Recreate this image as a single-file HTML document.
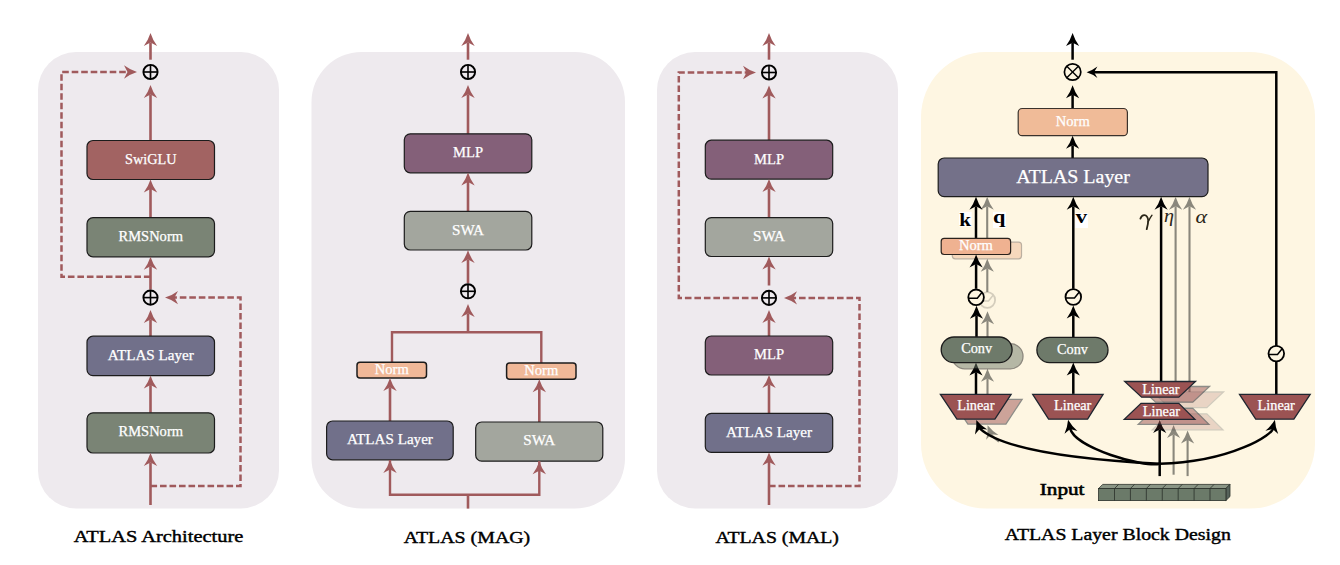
<!DOCTYPE html><html><head><meta charset="utf-8"><style>html,body{margin:0;padding:0;background:#fff;width:1340px;height:565px;overflow:hidden}svg{display:block}text{font-family:"Liberation Serif",serif}</style></head><body>
<svg width="1340" height="565" viewBox="0 0 1340 565">
<rect x="38" y="52" width="241" height="456.5" rx="38" fill="#eeeaee"/>
<line x1="150.5" y1="59.7" x2="150.50" y2="42.50" stroke="#a05a5c" stroke-width="2.6"/><path d="M150.50,33.00 Q152.70,40.00 157.20,46.00 L150.50,42.50 L143.80,46.00 Q148.30,40.00 150.50,33.00Z" fill="#a05a5c"/>
<circle cx="150.5" cy="72" r="7.1" fill="none" stroke="#000" stroke-width="1.9"/><line x1="143.4" y1="72" x2="157.6" y2="72" stroke="#000" stroke-width="1.615"/><line x1="150.5" y1="64.9" x2="150.5" y2="79.1" stroke="#000" stroke-width="1.615"/>
<line x1="150.5" y1="140.5" x2="150.50" y2="94.50" stroke="#a05a5c" stroke-width="2.6"/><path d="M150.50,85.00 Q152.70,92.00 157.20,98.00 L150.50,94.50 L143.80,98.00 Q148.30,92.00 150.50,85.00Z" fill="#a05a5c"/>
<rect x="87" y="140.5" width="127.5" height="39.0" rx="6" fill="#a26362" stroke="#1c1c1c" stroke-width="1.2"/><text x="150.75" y="163.8" text-anchor="middle" font-size="14.3" fill="#fff" font-weight="normal" stroke="#fff" stroke-width="0.25" textLength="51.5" lengthAdjust="spacingAndGlyphs">SwiGLU</text>
<line x1="150.5" y1="217.7" x2="150.50" y2="189.00" stroke="#a05a5c" stroke-width="2.6"/><path d="M150.50,179.50 Q152.70,186.50 157.20,192.50 L150.50,189.00 L143.80,192.50 Q148.30,186.50 150.50,179.50Z" fill="#a05a5c"/>
<rect x="87" y="217.7" width="127.5" height="39.10000000000002" rx="6" fill="#7a8475" stroke="#1c1c1c" stroke-width="1.2"/><text x="150.75" y="241.0" text-anchor="middle" font-size="14.3" fill="#fff" font-weight="normal" stroke="#fff" stroke-width="0.25" textLength="64.5" lengthAdjust="spacingAndGlyphs">RMSNorm</text>
<line x1="150.5" y1="289.6" x2="150.50" y2="266.30" stroke="#a05a5c" stroke-width="2.6"/><path d="M150.50,256.80 Q152.70,263.80 157.20,269.80 L150.50,266.30 L143.80,269.80 Q148.30,263.80 150.50,256.80Z" fill="#a05a5c"/>
<circle cx="150.5" cy="297.6" r="7.1" fill="none" stroke="#000" stroke-width="1.9"/><line x1="143.4" y1="297.6" x2="157.6" y2="297.6" stroke="#000" stroke-width="1.615"/><line x1="150.5" y1="290.5" x2="150.5" y2="304.70000000000005" stroke="#000" stroke-width="1.615"/>
<polyline points="150.5,276.8 61.5,276.8 61.5,72 128,72" fill="none" stroke="#a05a5c" stroke-width="2.5" stroke-dasharray="6.6 2.9" stroke-linejoin="miter"/>
<path d="M137.00,72.00 Q130.00,74.20 124.00,78.70 L127.50,72.00 L124.00,65.30 Q130.00,69.80 137.00,72.00Z" fill="#a05a5c"/>
<line x1="150.5" y1="336.2" x2="150.50" y2="319.50" stroke="#a05a5c" stroke-width="2.6"/><path d="M150.50,310.00 Q152.70,317.00 157.20,323.00 L150.50,319.50 L143.80,323.00 Q148.30,317.00 150.50,310.00Z" fill="#a05a5c"/>
<rect x="87" y="336.2" width="127.5" height="39.400000000000034" rx="6" fill="#71708a" stroke="#1c1c1c" stroke-width="1.2"/><text x="150.75" y="359.5" text-anchor="middle" font-size="14.3" fill="#fff" font-weight="normal" stroke="#fff" stroke-width="0.25" textLength="86" lengthAdjust="spacingAndGlyphs">ATLAS Layer</text>
<line x1="150.5" y1="412.8" x2="150.50" y2="385.10" stroke="#a05a5c" stroke-width="2.6"/><path d="M150.50,375.60 Q152.70,382.60 157.20,388.60 L150.50,385.10 L143.80,388.60 Q148.30,382.60 150.50,375.60Z" fill="#a05a5c"/>
<rect x="87" y="412.8" width="127.5" height="40.19999999999999" rx="6" fill="#7a8475" stroke="#1c1c1c" stroke-width="1.2"/><text x="150.75" y="436.1" text-anchor="middle" font-size="14.3" fill="#fff" font-weight="normal" stroke="#fff" stroke-width="0.25" textLength="64.5" lengthAdjust="spacingAndGlyphs">RMSNorm</text>
<line x1="150.5" y1="505" x2="150.50" y2="462.50" stroke="#a05a5c" stroke-width="2.6"/><path d="M150.50,453.00 Q152.70,460.00 157.20,466.00 L150.50,462.50 L143.80,466.00 Q148.30,460.00 150.50,453.00Z" fill="#a05a5c"/>
<polyline points="150.5,486 240.5,486 240.5,297.6 174,297.6" fill="none" stroke="#a05a5c" stroke-width="2.5" stroke-dasharray="6.6 2.9" stroke-linejoin="miter"/>
<path d="M165.00,297.60 Q172.00,295.40 178.00,290.90 L174.50,297.60 L178.00,304.30 Q172.00,299.80 165.00,297.60Z" fill="#a05a5c"/>
<rect x="311.5" y="52" width="313.5" height="456.5" rx="50" fill="#eeeaee"/>
<line x1="468" y1="59.7" x2="468.00" y2="42.50" stroke="#a05a5c" stroke-width="2.6"/><path d="M468.00,33.00 Q470.20,40.00 474.70,46.00 L468.00,42.50 L461.30,46.00 Q465.80,40.00 468.00,33.00Z" fill="#a05a5c"/>
<circle cx="468" cy="72" r="7.1" fill="none" stroke="#000" stroke-width="1.9"/><line x1="460.9" y1="72" x2="475.1" y2="72" stroke="#000" stroke-width="1.615"/><line x1="468" y1="64.9" x2="468" y2="79.1" stroke="#000" stroke-width="1.615"/>
<line x1="468" y1="133.8" x2="468.00" y2="94.50" stroke="#a05a5c" stroke-width="2.6"/><path d="M468.00,85.00 Q470.20,92.00 474.70,98.00 L468.00,94.50 L461.30,98.00 Q465.80,92.00 468.00,85.00Z" fill="#a05a5c"/>
<rect x="404.3" y="133.8" width="127.49999999999994" height="39.0" rx="6" fill="#846079" stroke="#1c1c1c" stroke-width="1.2"/><text x="468.04999999999995" y="157.10000000000002" text-anchor="middle" font-size="14.3" fill="#fff" font-weight="normal" stroke="#fff" stroke-width="0.25" textLength="30" lengthAdjust="spacingAndGlyphs">MLP</text>
<line x1="468" y1="211.4" x2="468.00" y2="182.00" stroke="#a05a5c" stroke-width="2.6"/><path d="M468.00,172.50 Q470.20,179.50 474.70,185.50 L468.00,182.00 L461.30,185.50 Q465.80,179.50 468.00,172.50Z" fill="#a05a5c"/>
<rect x="404.3" y="211.4" width="127.49999999999994" height="38.599999999999994" rx="6" fill="#a3a69e" stroke="#1c1c1c" stroke-width="1.2"/><text x="468.04999999999995" y="234.70000000000002" text-anchor="middle" font-size="14.3" fill="#fff" font-weight="normal" stroke="#fff" stroke-width="0.25" textLength="32" lengthAdjust="spacingAndGlyphs">SWA</text>
<line x1="468" y1="283.3" x2="468.00" y2="259.50" stroke="#a05a5c" stroke-width="2.6"/><path d="M468.00,250.00 Q470.20,257.00 474.70,263.00 L468.00,259.50 L461.30,263.00 Q465.80,257.00 468.00,250.00Z" fill="#a05a5c"/>
<circle cx="468" cy="291.3" r="7.1" fill="none" stroke="#000" stroke-width="1.9"/><line x1="460.9" y1="291.3" x2="475.1" y2="291.3" stroke="#000" stroke-width="1.615"/><line x1="468" y1="284.2" x2="468" y2="298.40000000000003" stroke="#000" stroke-width="1.615"/>
<polyline points="392,362.2 392,332.3 541.3,332.3 541.3,363" fill="none" stroke="#a05a5c" stroke-width="2.4" stroke-linejoin="miter"/>
<line x1="468" y1="332.3" x2="468.00" y2="313.50" stroke="#a05a5c" stroke-width="2.6"/><path d="M468.00,304.00 Q470.20,311.00 474.70,317.00 L468.00,313.50 L461.30,317.00 Q465.80,311.00 468.00,304.00Z" fill="#a05a5c"/>
<rect x="357" y="362.2" width="69.5" height="15.699999999999989" rx="3" fill="#f0b898" stroke="#1c1c1c" stroke-width="1.5"/><text x="391.75" y="373.8" text-anchor="middle" font-size="14" fill="#fff" font-weight="normal" stroke="#fff" stroke-width="0.25" textLength="34" lengthAdjust="spacingAndGlyphs">Norm</text>
<rect x="506.6" y="363" width="69.39999999999998" height="16.19999999999999" rx="3" fill="#f0b898" stroke="#1c1c1c" stroke-width="1.5"/><text x="541.3" y="374.8" text-anchor="middle" font-size="14" fill="#fff" font-weight="normal" stroke="#fff" stroke-width="0.25" textLength="34" lengthAdjust="spacingAndGlyphs">Norm</text>
<line x1="390" y1="421" x2="390.00" y2="387.50" stroke="#a05a5c" stroke-width="2.6"/><path d="M390.00,378.00 Q392.20,385.00 396.70,391.00 L390.00,387.50 L383.30,391.00 Q387.80,385.00 390.00,378.00Z" fill="#a05a5c"/>
<line x1="539.3" y1="422" x2="539.30" y2="388.70" stroke="#a05a5c" stroke-width="2.6"/><path d="M539.30,379.20 Q541.50,386.20 546.00,392.20 L539.30,388.70 L532.60,392.20 Q537.10,386.20 539.30,379.20Z" fill="#a05a5c"/>
<rect x="326.6" y="421" width="126.59999999999997" height="38.80000000000001" rx="6" fill="#71708a" stroke="#1c1c1c" stroke-width="1.2"/><text x="389.9" y="444.3" text-anchor="middle" font-size="14.3" fill="#fff" font-weight="normal" stroke="#fff" stroke-width="0.25" textLength="86" lengthAdjust="spacingAndGlyphs">ATLAS Layer</text>
<rect x="475.7" y="422" width="127.09999999999997" height="39.19999999999999" rx="6" fill="#a3a69e" stroke="#1c1c1c" stroke-width="1.2"/><text x="539.25" y="445.3" text-anchor="middle" font-size="14.3" fill="#fff" font-weight="normal" stroke="#fff" stroke-width="0.25" textLength="32" lengthAdjust="spacingAndGlyphs">SWA</text>
<polyline points="390,460 390,494.8 539.3,494.8 539.3,461" fill="none" stroke="#a05a5c" stroke-width="2.4" stroke-linejoin="miter"/>
<line x1="468" y1="494.8" x2="468" y2="508.6" stroke="#a05a5c" stroke-width="2.6" stroke-linecap="butt"/>
<path d="M390.00,460.00 Q392.20,467.00 396.70,473.00 L390.00,469.50 L383.30,473.00 Q387.80,467.00 390.00,460.00Z" fill="#a05a5c"/>
<path d="M539.30,461.20 Q541.50,468.20 546.00,474.20 L539.30,470.70 L532.60,474.20 Q537.10,468.20 539.30,461.20Z" fill="#a05a5c"/>
<rect x="657" y="52" width="241" height="456.5" rx="38" fill="#eeeaee"/>
<line x1="769" y1="59.7" x2="769.00" y2="42.50" stroke="#a05a5c" stroke-width="2.6"/><path d="M769.00,33.00 Q771.20,40.00 775.70,46.00 L769.00,42.50 L762.30,46.00 Q766.80,40.00 769.00,33.00Z" fill="#a05a5c"/>
<circle cx="769" cy="72.5" r="7.1" fill="none" stroke="#000" stroke-width="1.9"/><line x1="761.9" y1="72.5" x2="776.1" y2="72.5" stroke="#000" stroke-width="1.615"/><line x1="769" y1="65.4" x2="769" y2="79.6" stroke="#000" stroke-width="1.615"/>
<line x1="769" y1="140.2" x2="769.00" y2="95.00" stroke="#a05a5c" stroke-width="2.6"/><path d="M769.00,85.50 Q771.20,92.50 775.70,98.50 L769.00,95.00 L762.30,98.50 Q766.80,92.50 769.00,85.50Z" fill="#a05a5c"/>
<rect x="705.3" y="140.2" width="127.40000000000009" height="38.900000000000006" rx="6" fill="#846079" stroke="#1c1c1c" stroke-width="1.2"/><text x="769.0" y="163.5" text-anchor="middle" font-size="14.3" fill="#fff" font-weight="normal" stroke="#fff" stroke-width="0.25" textLength="30" lengthAdjust="spacingAndGlyphs">MLP</text>
<line x1="769" y1="217.6" x2="769.00" y2="188.60" stroke="#a05a5c" stroke-width="2.6"/><path d="M769.00,179.10 Q771.20,186.10 775.70,192.10 L769.00,188.60 L762.30,192.10 Q766.80,186.10 769.00,179.10Z" fill="#a05a5c"/>
<rect x="705.3" y="217.6" width="127.40000000000009" height="38.900000000000006" rx="6" fill="#a3a69e" stroke="#1c1c1c" stroke-width="1.2"/><text x="769.0" y="240.9" text-anchor="middle" font-size="14.3" fill="#fff" font-weight="normal" stroke="#fff" stroke-width="0.25" textLength="32" lengthAdjust="spacingAndGlyphs">SWA</text>
<line x1="769" y1="285.5" x2="769.00" y2="266.00" stroke="#a05a5c" stroke-width="2.6"/><path d="M769.00,256.50 Q771.20,263.50 775.70,269.50 L769.00,266.00 L762.30,269.50 Q766.80,263.50 769.00,256.50Z" fill="#a05a5c"/>
<circle cx="769" cy="297.9" r="7.1" fill="none" stroke="#000" stroke-width="1.9"/><line x1="761.9" y1="297.9" x2="776.1" y2="297.9" stroke="#000" stroke-width="1.615"/><line x1="769" y1="290.79999999999995" x2="769" y2="305.0" stroke="#000" stroke-width="1.615"/>
<polyline points="758,297.9 678.8,297.9 678.8,72.5 747,72.5" fill="none" stroke="#a05a5c" stroke-width="2.5" stroke-dasharray="6.6 2.9" stroke-linejoin="miter"/>
<path d="M756.00,72.50 Q749.00,74.70 743.00,79.20 L746.50,72.50 L743.00,65.80 Q749.00,70.30 756.00,72.50Z" fill="#a05a5c"/>
<line x1="769" y1="336" x2="769.00" y2="319.50" stroke="#a05a5c" stroke-width="2.6"/><path d="M769.00,310.00 Q771.20,317.00 775.70,323.00 L769.00,319.50 L762.30,323.00 Q766.80,317.00 769.00,310.00Z" fill="#a05a5c"/>
<rect x="705.3" y="336" width="127.40000000000009" height="39" rx="6" fill="#846079" stroke="#1c1c1c" stroke-width="1.2"/><text x="769.0" y="359.3" text-anchor="middle" font-size="14.3" fill="#fff" font-weight="normal" stroke="#fff" stroke-width="0.25" textLength="30" lengthAdjust="spacingAndGlyphs">MLP</text>
<line x1="769" y1="413.3" x2="769.00" y2="384.50" stroke="#a05a5c" stroke-width="2.6"/><path d="M769.00,375.00 Q771.20,382.00 775.70,388.00 L769.00,384.50 L762.30,388.00 Q766.80,382.00 769.00,375.00Z" fill="#a05a5c"/>
<rect x="705.3" y="413.3" width="127.40000000000009" height="39.099999999999966" rx="6" fill="#71708a" stroke="#1c1c1c" stroke-width="1.2"/><text x="769.0" y="436.6" text-anchor="middle" font-size="14.3" fill="#fff" font-weight="normal" stroke="#fff" stroke-width="0.25" textLength="86" lengthAdjust="spacingAndGlyphs">ATLAS Layer</text>
<line x1="769" y1="505" x2="769.00" y2="461.90" stroke="#a05a5c" stroke-width="2.6"/><path d="M769.00,452.40 Q771.20,459.40 775.70,465.40 L769.00,461.90 L762.30,465.40 Q766.80,459.40 769.00,452.40Z" fill="#a05a5c"/>
<polyline points="769,486 859.5,486 859.5,297.9 793,297.9" fill="none" stroke="#a05a5c" stroke-width="2.5" stroke-dasharray="6.6 2.9" stroke-linejoin="miter"/>
<path d="M784.00,297.90 Q791.00,295.70 797.00,291.20 L793.50,297.90 L797.00,304.60 Q791.00,300.10 784.00,297.90Z" fill="#a05a5c"/>
<rect x="921" y="52" width="394" height="456.5" rx="65" fill="#fef6e2"/>
<polyline points="1276.3,394.7 1276.3,72.2 1094,72.2" fill="none" stroke="#000" stroke-width="2.5" stroke-linejoin="miter"/>
<path d="M1086.60,72.20 Q1092.60,70.30 1097.40,66.50 L1094.10,72.20 L1097.40,77.90 Q1092.60,74.10 1086.60,72.20Z" fill="#000"/>
<g opacity="1.0"><circle cx="1276.3" cy="353.6" r="7.8" fill="#fef6e2" stroke="#000" stroke-width="1.8"/><polyline points="1268.5,354.5 1277.5,354.5 1282.1,348.8" fill="none" stroke="#000" stroke-width="1.5"/></g>
<line x1="1072.6" y1="59.7" x2="1072.60" y2="42.70" stroke="#000" stroke-width="2.5"/><path d="M1072.60,33.10 Q1074.80,40.10 1079.20,46.10 L1072.60,42.70 L1066.00,46.10 Q1070.40,40.10 1072.60,33.10Z" fill="#000"/>
<circle cx="1072.6" cy="72" r="8.2" fill="none" stroke="#000" stroke-width="1.7"/><line x1="1066.80178" y1="66.20178" x2="1078.3982199999998" y2="77.79822" stroke="#000" stroke-width="1.36"/><line x1="1066.80178" y1="77.79822" x2="1078.3982199999998" y2="66.20178" stroke="#000" stroke-width="1.36"/>
<line x1="1072.6" y1="108.5" x2="1072.60" y2="94.80" stroke="#000" stroke-width="2.5"/><path d="M1072.60,85.20 Q1074.80,92.20 1079.20,98.20 L1072.60,94.80 L1066.00,98.20 Q1070.40,92.20 1072.60,85.20Z" fill="#000"/>
<rect x="1018.2" y="108.5" width="109.20000000000005" height="27.19999999999999" rx="4" fill="#f0bb98" stroke="#3a322c" stroke-width="1.2"/><text x="1072.8000000000002" y="125.7" text-anchor="middle" font-size="14.3" fill="#fff" font-weight="normal" stroke="#fff" stroke-width="0.25" textLength="34" lengthAdjust="spacingAndGlyphs">Norm</text>
<line x1="1072.6" y1="158" x2="1072.60" y2="145.30" stroke="#000" stroke-width="2.5"/><path d="M1072.60,135.70 Q1074.80,142.70 1079.20,148.70 L1072.60,145.30 L1066.00,148.70 Q1070.40,142.70 1072.60,135.70Z" fill="#000"/>
<rect x="938.2" y="158" width="269.79999999999995" height="38.69999999999999" rx="6" fill="#747189" stroke="#1c1c1c" stroke-width="1.2"/><text x="1073.1" y="182.9" text-anchor="middle" font-size="19.7" fill="#fff" font-weight="normal" stroke="#fff" stroke-width="0.25" textLength="113.5" lengthAdjust="spacingAndGlyphs">ATLAS Layer</text>
<line x1="987.2" y1="242.1" x2="987.20" y2="206.30" stroke="#8a877c" stroke-width="2.1"/><path d="M987.20,196.70 Q989.40,203.70 993.80,209.70 L987.20,206.30 L980.60,209.70 Q985.00,203.70 987.20,196.70Z" fill="#8a877c"/>
<line x1="976" y1="238.4" x2="976.00" y2="206.30" stroke="#000" stroke-width="2.5"/><path d="M976.00,196.70 Q978.20,203.70 982.60,209.70 L976.00,206.30 L969.40,209.70 Q973.80,203.70 976.00,196.70Z" fill="#000"/>
<rect x="959" y="211.8" width="12.700000000000045" height="14.799999999999983" fill="#ffffff"/><text x="959.3" y="225.7" font-size="18.5" font-weight="bold" font-style="normal" fill="#000" textLength="11.8" lengthAdjust="spacingAndGlyphs">k</text>
<rect x="993" y="211.8" width="13" height="16.19999999999999" fill="#ffffff"/><text x="993.0" y="222.6" font-size="18.5" font-weight="bold" font-style="normal" fill="#000" textLength="12.4" lengthAdjust="spacingAndGlyphs">q</text>
<g opacity="0.16"><circle cx="987.3" cy="300" r="7.8" fill="none" stroke="#000" stroke-width="1.8"/><polyline points="979.5,300.9 988.5,300.9 993.0999999999999,295.2" fill="none" stroke="#000" stroke-width="1.5"/></g>
<line x1="987.3" y1="292" x2="987.30" y2="268.40" stroke="#8a877c" stroke-width="2.1"/><path d="M987.30,258.80 Q989.50,265.80 993.90,271.80 L987.30,268.40 L980.70,271.80 Q985.10,265.80 987.30,258.80Z" fill="#8a877c"/>
<line x1="987.5" y1="343.7" x2="987.50" y2="320.80" stroke="#8a877c" stroke-width="2.1"/><path d="M987.50,311.20 Q989.70,318.20 994.10,324.20 L987.50,320.80 L980.90,324.20 Q985.30,318.20 987.50,311.20Z" fill="#8a877c"/>
<line x1="987.5" y1="399.4" x2="987.50" y2="378.40" stroke="#8a877c" stroke-width="2.1"/><path d="M987.50,368.80 Q989.70,375.80 994.10,381.80 L987.50,378.40 L980.90,381.80 Q985.30,375.80 987.50,368.80Z" fill="#8a877c"/>
<rect x="952.3" y="242.1" width="69.2" height="16.7" rx="3" fill="#f0bb98" stroke="#7a6a60" stroke-width="1.2" opacity="0.5"/>
<rect x="941.2" y="238.4" width="69.39999999999998" height="16.099999999999994" rx="3" fill="#efb291" stroke="#2a221c" stroke-width="1.2"/><text x="975.9000000000001" y="249.9" text-anchor="middle" font-size="14" fill="#fff" font-weight="normal" stroke="#fff" stroke-width="0.25" textLength="34" lengthAdjust="spacingAndGlyphs">Norm</text>
<g opacity="1.0"><circle cx="976.1" cy="297.3" r="7.8" fill="#fef6e2" stroke="#000" stroke-width="1.8"/><polyline points="968.3000000000001,298.2 977.3000000000001,298.2 981.9,292.5" fill="none" stroke="#000" stroke-width="1.5"/></g>
<line x1="976.1" y1="288.8" x2="976.10" y2="264.10" stroke="#000" stroke-width="2.5"/><path d="M976.10,254.50 Q978.30,261.50 982.70,267.50 L976.10,264.10 L969.50,267.50 Q973.90,261.50 976.10,254.50Z" fill="#000"/>
<line x1="976.5" y1="337" x2="976.50" y2="315.40" stroke="#000" stroke-width="2.5"/><path d="M976.50,305.80 Q978.70,312.80 983.10,318.80 L976.50,315.40 L969.90,318.80 Q974.30,312.80 976.50,305.80Z" fill="#000"/>
<line x1="976" y1="394.4" x2="976.00" y2="372.20" stroke="#000" stroke-width="2.5"/><path d="M976.00,362.60 Q978.20,369.60 982.60,375.60 L976.00,372.20 L969.40,375.60 Q973.80,369.60 976.00,362.60Z" fill="#000"/>
<rect x="952.2" y="343.7" width="70.79999999999995" height="25.100000000000023" rx="12.550000000000011" fill="#6e7a6a" stroke="#1c1c1c" stroke-width="1.3" opacity="0.5"/>
<rect x="941.2" y="337" width="70.89999999999998" height="25.600000000000023" rx="12.800000000000011" fill="#6e7a6a" stroke="#1c1c1c" stroke-width="1.3" opacity="1.0"/><text x="976.6500000000001" y="353.3" text-anchor="middle" font-size="13.8" fill="#fff" stroke="#fff" stroke-width="0.25" textLength="31" lengthAdjust="spacingAndGlyphs">Conv</text>
<polygon points="951.4,399.4 1022.1,399.4 1005.9,424.1 967.9,424.1" fill="#9b5353" stroke="#1f2630" stroke-width="1.3" opacity="0.5" stroke-linejoin="miter"/>
<polygon points="940.4,394.4 1011.1,394.4 994.9,419.1 956.9,419.1" fill="#9b5353" stroke="#1f2630" stroke-width="1.3" opacity="1.0" stroke-linejoin="miter"/><text x="975.825" y="409.5" text-anchor="middle" font-size="13.8" fill="#fff" stroke="#fff" stroke-width="0.25" textLength="37.3" lengthAdjust="spacingAndGlyphs">Linear</text>
<line x1="1073.3" y1="288.8" x2="1073.30" y2="206.30" stroke="#000" stroke-width="2.5"/><path d="M1073.30,196.70 Q1075.50,203.70 1079.90,209.70 L1073.30,206.30 L1066.70,209.70 Q1071.10,203.70 1073.30,196.70Z" fill="#000"/>
<rect x="1075.3" y="213" width="12.700000000000045" height="15" fill="#ffffff"/><text x="1075.6" y="223.0" font-size="18.5" font-weight="bold" font-style="normal" fill="#000" textLength="11.6" lengthAdjust="spacingAndGlyphs">v</text>
<g opacity="1.0"><circle cx="1073.3" cy="297" r="7.8" fill="#fef6e2" stroke="#000" stroke-width="1.8"/><polyline points="1065.5,297.9 1074.5,297.9 1079.1,292.2" fill="none" stroke="#000" stroke-width="1.5"/></g>
<line x1="1073.3" y1="337.3" x2="1073.30" y2="315.10" stroke="#000" stroke-width="2.5"/><path d="M1073.30,305.50 Q1075.50,312.50 1079.90,318.50 L1073.30,315.10 L1066.70,318.50 Q1071.10,312.50 1073.30,305.50Z" fill="#000"/>
<rect x="1036.9" y="337.3" width="71.09999999999991" height="25.30000000000001" rx="12.650000000000006" fill="#6e7a6a" stroke="#1c1c1c" stroke-width="1.3" opacity="1.0"/><text x="1072.45" y="353.6" text-anchor="middle" font-size="13.8" fill="#fff" stroke="#fff" stroke-width="0.25" textLength="31" lengthAdjust="spacingAndGlyphs">Conv</text>
<line x1="1073.3" y1="393.9" x2="1073.30" y2="372.20" stroke="#000" stroke-width="2.5"/><path d="M1073.30,362.60 Q1075.50,369.60 1079.90,375.60 L1073.30,372.20 L1066.70,375.60 Q1071.10,369.60 1073.30,362.60Z" fill="#000"/>
<polygon points="1032.7,394.3 1103.1,394.3 1087.6,419.2 1048.6,419.2" fill="#9b5353" stroke="#1f2630" stroke-width="1.3" opacity="1.0" stroke-linejoin="miter"/><text x="1072.7" y="410.0" text-anchor="middle" font-size="13.8" fill="#fff" stroke="#fff" stroke-width="0.25" textLength="37.3" lengthAdjust="spacingAndGlyphs">Linear</text>
<line x1="1161.1" y1="381.5" x2="1161.10" y2="206.30" stroke="#000" stroke-width="2.5"/><path d="M1161.10,196.70 Q1163.30,203.70 1167.70,209.70 L1161.10,206.30 L1154.50,209.70 Q1158.90,203.70 1161.10,196.70Z" fill="#000"/>
<line x1="1175.6" y1="386.5" x2="1175.60" y2="206.30" stroke="#8a877c" stroke-width="2.1"/><path d="M1175.60,196.70 Q1177.80,203.70 1182.20,209.70 L1175.60,206.30 L1169.00,209.70 Q1173.40,203.70 1175.60,196.70Z" fill="#8a877c"/>
<line x1="1189.5" y1="392" x2="1189.50" y2="206.30" stroke="#8a877c" stroke-width="2.1"/><path d="M1189.50,196.70 Q1191.70,203.70 1196.10,209.70 L1189.50,206.30 L1182.90,209.70 Q1187.30,203.70 1189.50,196.70Z" fill="#8a877c"/>
<path d="M1140.4,218.6 Q1141.8,214.9 1144.4,215.1 Q1147.6,215.4 1148.2,220.2 Q1148.3,223.5 1146.7,229.2" fill="none" stroke="#2a2618" stroke-width="1.8" stroke-linecap="round"/>
<path d="M1152,215.2 Q1150.2,217.6 1148.2,221.8" fill="none" stroke="#2a2618" stroke-width="1.4" stroke-linecap="round"/>
<text x="1164" y="221.6" font-size="19" font-style="italic" fill="#2a2618" textLength="10" lengthAdjust="spacingAndGlyphs">&#951;</text>
<text x="1195.6" y="223.2" font-size="19" font-style="italic" fill="#2a2618" textLength="11.6" lengthAdjust="spacingAndGlyphs">&#945;</text>
<line x1="1173.6" y1="474.7" x2="1173.60" y2="434.50" stroke="#8a877c" stroke-width="2.1"/><path d="M1173.60,424.90 Q1175.80,431.90 1180.20,437.90 L1173.60,434.50 L1167.00,437.90 Q1171.40,431.90 1173.60,424.90Z" fill="#8a877c"/>
<line x1="1187.6" y1="476.1" x2="1187.60" y2="440.00" stroke="#8a877c" stroke-width="2.1"/><path d="M1187.60,430.40 Q1189.80,437.40 1194.20,443.40 L1187.60,440.00 L1181.00,443.40 Q1185.40,437.40 1187.60,430.40Z" fill="#8a877c"/>
<line x1="1159.7" y1="476.1" x2="1159.70" y2="429.50" stroke="#000" stroke-width="2.5"/><path d="M1159.70,419.90 Q1161.90,426.90 1166.30,432.90 L1159.70,429.50 L1153.10,432.90 Q1157.50,426.90 1159.70,419.90Z" fill="#000"/>
<polygon points="1152.7,392.0 1223.5,392.0 1206.8,407.7 1169.6,407.7" fill="#9b5353" stroke="#1f2630" stroke-width="1.3" opacity="0.2" stroke-linejoin="miter"/>
<polygon points="1169,413.9 1206.8,413.9 1222.9,429.8 1152.3,429.8" fill="#9b5353" stroke="#1f2630" stroke-width="1.3" opacity="0.2" stroke-linejoin="miter"/>
<polygon points="1138.7,386.5 1209.5,386.5 1192.8,402.2 1155.6,402.2" fill="#9b5353" stroke="#1f2630" stroke-width="1.3" opacity="0.5" stroke-linejoin="miter"/>
<polygon points="1155,408.4 1192.8,408.4 1208.9,424.3 1138.3,424.3" fill="#9b5353" stroke="#1f2630" stroke-width="1.3" opacity="0.5" stroke-linejoin="miter"/>
<polygon points="1124.7,381.5 1195.5,381.5 1178.8,397.2 1141.6,397.2" fill="#9b5353" stroke="#1f2630" stroke-width="1.3" opacity="1.0" stroke-linejoin="miter"/><text x="1161" y="394.0" text-anchor="middle" font-size="13.8" fill="#fff" stroke="#fff" stroke-width="0.25" textLength="37.3" lengthAdjust="spacingAndGlyphs">Linear</text>
<polygon points="1141,403.4 1178.8,403.4 1194.9,419.3 1124.3,419.3" fill="#9b5353" stroke="#1f2630" stroke-width="1.3" opacity="1.0" stroke-linejoin="miter"/><text x="1161.4" y="415.8" text-anchor="middle" font-size="13.8" fill="#fff" stroke="#fff" stroke-width="0.25" textLength="37.3" lengthAdjust="spacingAndGlyphs">Linear</text>
<polygon points="1239.5,394.4 1310.2,394.4 1293.9,419.2 1255.7,419.2" fill="#9b5353" stroke="#1f2630" stroke-width="1.3" opacity="1.0" stroke-linejoin="miter"/><text x="1276.2" y="410.3" text-anchor="middle" font-size="13.8" fill="#fff" stroke="#fff" stroke-width="0.25" textLength="37.3" lengthAdjust="spacingAndGlyphs">Linear</text>
<path d="M999,441.5 Q994,438.5 990.8,434" fill="none" stroke="#8a877c" stroke-width="2.1"/>
<path d="M987.60,425.20 Q992.18,430.93 998.45,434.94 L991.07,434.15 L986.14,439.71 Q988.08,432.52 987.60,425.20Z" fill="#8a877c"/>
<path d="M1159.7,463.8 C1108,461.1 1006.7,453.7 979.7,428.3" fill="none" stroke="#000" stroke-width="2.5"/>
<path d="M976.30,419.90 Q980.93,425.59 987.24,429.54 L979.85,428.82 L974.97,434.42 Q976.84,427.22 976.30,419.90Z" fill="#000"/>
<path d="M1159.7,463.8 C1143.8,467.9 1075.1,447.9 1070.1,428.5" fill="none" stroke="#000" stroke-width="2.5"/>
<path d="M1068.10,419.70 Q1071.79,426.04 1077.40,430.93 L1070.21,429.06 L1064.52,433.83 Q1067.49,427.01 1068.10,419.70Z" fill="#000"/>
<path d="M1159.7,463.8 C1232.9,461.9 1274.3,433.2 1272.7,428.4" fill="none" stroke="#000" stroke-width="2.5"/>
<path d="M1274.90,419.70 Q1275.35,427.02 1278.18,433.90 L1272.59,429.02 L1265.37,430.73 Q1271.08,425.97 1274.90,419.70Z" fill="#000"/>
<text x="1039.8" y="495.2" font-size="17.5" font-weight="normal" stroke="#000" stroke-width="0.6" fill="#000" textLength="44.6" lengthAdjust="spacingAndGlyphs">Input</text>
<polygon points="1098.6,488.5 1102.6999999999998,484.4 1230.0,484.4 1225.9,488.5" fill="#8a9585" stroke="#2a302a" stroke-width="0.8"/>
<polygon points="1225.9,488.5 1230.0,484.4 1230.0,496.5 1225.9,500.6" fill="#56625a" stroke="#2a302a" stroke-width="0.8"/>
<rect x="1098.6" y="488.5" width="127.30000000000018" height="12.100000000000023" fill="#6b7a69" stroke="#2a302a" stroke-width="0.8"/>
<line x1="1114.51" y1="488.5" x2="1114.51" y2="500.6" stroke="#2a302a" stroke-width="0.8"/>
<line x1="1114.51" y1="488.5" x2="1118.61" y2="484.4" stroke="#2a302a" stroke-width="0.8"/>
<line x1="1130.42" y1="488.5" x2="1130.42" y2="500.6" stroke="#2a302a" stroke-width="0.8"/>
<line x1="1130.42" y1="488.5" x2="1134.52" y2="484.4" stroke="#2a302a" stroke-width="0.8"/>
<line x1="1146.34" y1="488.5" x2="1146.34" y2="500.6" stroke="#2a302a" stroke-width="0.8"/>
<line x1="1146.34" y1="488.5" x2="1150.44" y2="484.4" stroke="#2a302a" stroke-width="0.8"/>
<line x1="1162.25" y1="488.5" x2="1162.25" y2="500.6" stroke="#2a302a" stroke-width="0.8"/>
<line x1="1162.25" y1="488.5" x2="1166.35" y2="484.4" stroke="#2a302a" stroke-width="0.8"/>
<line x1="1178.16" y1="488.5" x2="1178.16" y2="500.6" stroke="#2a302a" stroke-width="0.8"/>
<line x1="1178.16" y1="488.5" x2="1182.26" y2="484.4" stroke="#2a302a" stroke-width="0.8"/>
<line x1="1194.08" y1="488.5" x2="1194.08" y2="500.6" stroke="#2a302a" stroke-width="0.8"/>
<line x1="1194.08" y1="488.5" x2="1198.17" y2="484.4" stroke="#2a302a" stroke-width="0.8"/>
<line x1="1209.99" y1="488.5" x2="1209.99" y2="500.6" stroke="#2a302a" stroke-width="0.8"/>
<line x1="1209.99" y1="488.5" x2="1214.09" y2="484.4" stroke="#2a302a" stroke-width="0.8"/>
<text x="158.5" y="541.9" text-anchor="middle" font-size="17.4" font-weight="normal" fill="#000" stroke="#000" stroke-width="0.42" textLength="169.5" lengthAdjust="spacingAndGlyphs">ATLAS Architecture</text>
<text x="467" y="543.0" text-anchor="middle" font-size="17.4" font-weight="normal" fill="#000" stroke="#000" stroke-width="0.42" textLength="126.5" lengthAdjust="spacingAndGlyphs">ATLAS (MAG)</text>
<text x="777.15" y="543.0" text-anchor="middle" font-size="17.4" font-weight="normal" fill="#000" stroke="#000" stroke-width="0.42" textLength="123.5" lengthAdjust="spacingAndGlyphs">ATLAS (MAL)</text>
<text x="1117.8" y="539.7" text-anchor="middle" font-size="17.4" font-weight="normal" fill="#000" stroke="#000" stroke-width="0.42" textLength="226" lengthAdjust="spacingAndGlyphs">ATLAS Layer Block Design</text>
</svg></body></html>
